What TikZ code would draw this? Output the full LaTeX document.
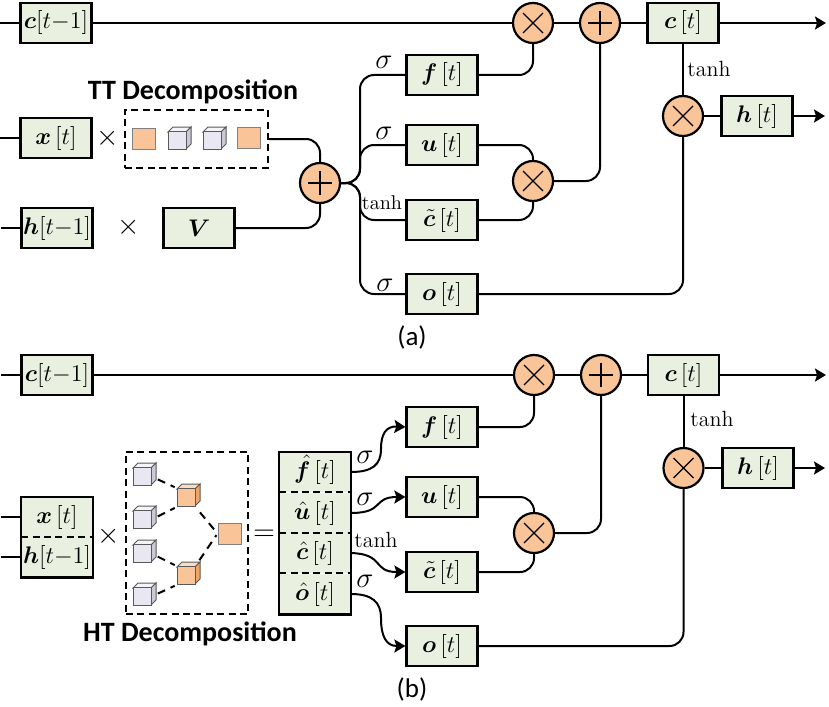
\documentclass[tikz,border=0pt]{standalone}
\usepackage{amsmath,bm}
\usepackage{fontspec}
\newfontfamily\labelfont{Carlito}
\usetikzlibrary{fit,arrows.meta}
\definecolor{boxgreen}{HTML}{E9F0DF}
\definecolor{oporange}{HTML}{F8C498}
\definecolor{orangetop}{HTML}{FBDDC3}
\definecolor{orangeside}{HTML}{F0A465}
\definecolor{cubefront}{HTML}{E9E7F1}
\definecolor{cubetop}{HTML}{F5F4F9}
\definecolor{cubeside}{HTML}{CBC8D8}
\newcommand{\cubefaces}[3]{%
  \draw[cubeedge,fill=#1] (0,0) -- (5,-5) -- (23,-5) -- (18,0) -- cycle;
  \draw[cubeedge,fill=#2] (18,0) -- (23,-5) -- (23,12) -- (18,17) -- cycle;
  \node[cubeedge,draw,fill=#3,minimum size=9pt,inner sep=0pt] (-f) at (9,8.5) {};
}
\tikzset{
  gbox/.style={draw,line width=1.1pt,fill=boxgreen,minimum width=35.5pt,minimum height=20pt,inner sep=0pt,font=\fontsize{13}{15}\selectfont},
  cell/.style={fill=boxgreen,minimum width=35.5pt,minimum height=20pt,text height=8.5pt,text depth=2.5pt,inner sep=0pt,font=\fontsize{13}{15}\selectfont},
  narrowlabel/.style={font=\fontsize{12}{14}\selectfont},
  opnode/.style={circle,draw,line width=1.1pt,fill=oporange,minimum size=20pt,inner sep=0pt},
  opadd/.style={opnode,path picture={
    \draw[line width=0.6pt] (path picture bounding box.center) ++(-6pt,0) -- ++(12pt,0) ++(-6pt,-6pt) -- ++(0,12pt);}},
  opmul/.style={opnode,path picture={
    \draw[line width=0.6pt] (path picture bounding box.center) ++(-5pt,-5pt) -- ++(10pt,10pt) ++(-10pt,0) -- ++(10pt,-10pt);}},
  wire/.style={line width=1pt,rounded corners=7pt},
  outwire/.style={line width=1pt,-{Stealth[length=5.5pt,width=6.5pt,inset=1pt]}},
  dashbox/.style={draw,line width=1pt,dash pattern=on 3.5pt off 2.2pt,inner sep=0pt},
  dashsep/.style={line width=1pt,dash pattern=on 3.5pt off 2.2pt},
  dashlink/.style={line width=1pt,dash pattern=on 4pt off 3pt,shorten <=3.5pt,shorten >=1pt},
  tensorsq/.style={draw=black!50,line width=0.5pt,fill=oporange,minimum width=11.5pt,minimum height=10.5pt,inner sep=0pt},
  cubeedge/.style={draw=black!65,line width=0.5pt},
  decolabel/.style={font=\labelfont\bfseries\fontsize{14}{16}\selectfont},
  caption/.style={font=\labelfont\fontsize{13.5}{16}\selectfont},
  siglabel/.style={font=\fontsize{14}{16}\selectfont},
  tanhlabel/.style={font=\fontsize{11}{13}\selectfont},
  graycube/.pic={\cubefaces{cubetop}{cubeside}{cubefront}},
  orangecube/.pic={\cubefaces{orangetop}{orangeside}{oporange}},
}
\begin{document}
\begin{tikzpicture}[x=0.5pt,y=-0.5pt]
\useasboundingbox (0,0) rectangle (829,706);

\node[gbox,narrowlabel] (cprev) at (56,23) {$\bm{c}[t{-}1]$};
\node[gbox] (x) at (56,138) {$\bm{x}\,[t]$};
\node[gbox,narrowlabel] (hprev) at (57,228) {$\bm{h}[t{-}1]$};
\node[gbox] (V) at (199,228) {$\bm{V}$};
\node[gbox] (f) at (442,75) {$\bm{f}\,[t]$};
\node[gbox] (u) at (442,145) {$\bm{u}\,[t]$};
\node[gbox] (ct) at (442,220) {$\tilde{\bm{c}}\,[t]$};
\node[gbox] (o) at (442,294) {$\bm{o}\,[t]$};
\node[gbox] (c) at (683,23) {$\bm{c}\,[t]$};
\node[gbox] (h) at (757,116) {$\bm{h}\,[t]$};
\node[opadd] (add) at (320,183) {};
\node[opmul] (mulf) at (533,23) {};
\node[opadd] (addc) at (600,23) {};
\node[opmul] (mulu) at (533,181) {};
\node[opmul] (mulh) at (683,116) {};
\node[dashbox,minimum width=71.5pt,minimum height=29pt] (ttbox) at (196.5,139) {};
\node[tensorsq] (tt1) at (144,139) {};
\pic (tt2) at (168,132) {graycube};
\pic (tt3) at (203,132) {graycube};
\node[tensorsq] (tt4) at (249,138) {};
\node[decolabel] (ttlabel) at (193,92) {TT Decomposition};
\node (timesx) at (108,138) {\Large$\times$};
\node (timesh) at (129,227) {\Large$\times$};
\node[siglabel] (sigf) at (384,62) {$\sigma$};
\node[siglabel] (sigu) at (384,133) {$\sigma$};
\node (tanhc) at (382,203) {$\tanh$};
\node[siglabel] (sigo) at (385,285) {$\sigma$};
\node[tanhlabel] (tanhh) at (709,69) {$\tanh$};
\node[caption] (capa) at (412,337) {(a)};

\coordinate (cin) at (0,23);
\coordinate (xin) at (0,138);
\coordinate (hin) at (1,228);
\coordinate (split) at (360,183);
\coordinate (cout) at (826,23);
\coordinate (hout) at (825,116);
\draw[wire] (cin) -- (cprev.west);
\draw[wire] (xin) -- (x.west);
\draw[wire] (hin) -- (hprev.west);
\draw[wire] (cprev.east) -- (mulf.west);
\draw[wire] (mulf.east) -- (addc.west);
\draw[wire] (addc.east) -- (c.west);
\draw[outwire] (c.east) -- (cout);
\draw[wire] (c.south) -- (mulh.north);
\draw[wire] (mulh.east) -- (h.west);
\draw[outwire] (h.east) -- (hout);
\draw[wire] (ttbox.east) -| (add.north);
\draw[wire] (V.east) -| (add.south);
\draw[wire] (add.east) -- (split) |- (f.west);
\draw[wire] (add.east) -- (split) |- (u.west);
\draw[wire] (add.east) -- (split) |- (ct.west);
\draw[wire] (add.east) -- (split) |- (o.west);
\draw[wire] (f.east) -| (mulf.south);
\draw[wire] (u.east) -| (mulu.north);
\draw[wire] (ct.east) -| (mulu.south);
\draw[wire] (mulu.east) -| (addc.south);
\draw[wire] (o.east) -| (mulh.south);

\node[gbox,narrowlabel] (cprevb) at (57,375) {$\bm{c}[t{-}1]$};
\node[cell] (xb) at (57,517) {$\bm{x}\,[t]$};
\node[cell,narrowlabel] (hb) at (57,557) {$\bm{h}[t{-}1]$};
\node[fit=(xb)(hb),draw,line width=1.1pt,inner sep=0pt] (xhbox) {};
\draw[dashsep] (xb.south west) -- (xb.south east);
\node[cell] (fhat) at (315,472) {$\hat{\bm{f}}\,[t]$};
\node[cell] (uhat) at (315,513) {$\hat{\bm{u}}\,[t]$};
\node[cell] (chat) at (315,553) {$\hat{\bm{c}}\,[t]$};
\node[cell] (ohat) at (315,594) {$\hat{\bm{o}}\,[t]$};
\node[fit=(fhat)(ohat),draw,line width=1.1pt,inner sep=0pt] (stack) {};
\draw[dashsep] (fhat.south west) -- (fhat.south east);
\draw[dashsep] (uhat.south west) -- (uhat.south east);
\draw[dashsep] (chat.south west) -- (chat.south east);
\node[gbox] (fb) at (442,427) {$\bm{f}\,[t]$};
\node[gbox] (ub) at (442,497) {$\bm{u}\,[t]$};
\node[gbox] (ctb) at (442,572) {$\tilde{\bm{c}}\,[t]$};
\node[gbox] (ob) at (442,646) {$\bm{o}\,[t]$};
\node[gbox] (cb) at (683.5,375) {$\bm{c}\,[t]$};
\node[gbox] (hbout) at (758,468) {$\bm{h}\,[t]$};
\node[opmul] (mulfb) at (534,375) {};
\node[opadd] (addcb) at (601,375) {};
\node[opmul] (mulub) at (534,533) {};
\node[opmul] (mulhb) at (683.5,468) {};
\node[dashbox,minimum width=61pt,minimum height=81pt] (htbox) at (187,533) {};
\pic (ht1) at (133,468) {graycube};
\pic (ht2) at (133,511) {graycube};
\pic (ht3) at (133,545) {graycube};
\pic (ht4) at (133,588) {graycube};
\pic (ho1) at (177,489) {orangecube};
\pic (ho2) at (177,567) {orangecube};
\node[tensorsq] (hroot) at (229.5,533.5) {};
\draw[dashlink] (ht1-f.east) -- (ho1-f.north west);
\draw[dashlink] (ht2-f.east) -- (ho1-f.south west);
\draw[dashlink] (ht3-f.east) -- (ho2-f.north west);
\draw[dashlink] (ht4-f.east) -- (ho2-f.south west);
\draw[dashlink] (ho1-f.south east) -- (hroot.west);
\draw[dashlink] (ho2-f.north east) -- (hroot.west);
\node[decolabel] (htlabel) at (190,634) {HT Decomposition};
\node (timesb) at (109,536) {\Large$\times$};
\node (eqb) at (264,535) {\Large$=$};
\node[siglabel] (sigfb) at (365,457) {$\sigma$};
\node[siglabel] (sigub) at (365,499) {$\sigma$};
\node[tanhlabel] (tanhb) at (376,540) {$\tanh$};
\node[siglabel] (sigob) at (365,581) {$\sigma$};
\node[tanhlabel] (tanhhb) at (712,419) {$\tanh$};
\node[caption] (capb) at (412,689) {(b)};

\coordinate (cinb) at (1,375);
\coordinate (xinb) at (1,517);
\coordinate (hinb) at (1,557);
\coordinate (coutb) at (826,375);
\coordinate (houtb) at (825,468);
\draw[wire] (cinb) -- (cprevb.west);
\draw[wire] (xinb) -- (xb.west);
\draw[wire] (hinb) -- (hb.west);
\draw[wire] (cprevb.east) -- (mulfb.west);
\draw[wire] (mulfb.east) -- (addcb.west);
\draw[wire] (addcb.east) -- (cb.west);
\draw[outwire] (cb.east) -- (coutb);
\draw[wire] (cb.south) -- (mulhb.north);
\draw[wire] (mulhb.east) -- (hbout.west);
\draw[outwire] (hbout.east) -- (houtb);
\draw[outwire] (fhat.east) .. controls (372,472) and (381,465) .. (381,449) .. controls (381,434) and (386,426) .. (fb.west);
\draw[outwire] (uhat.east) .. controls (385,513) and (372,497) .. (ub.west);
\draw[outwire] (chat.east) .. controls (385,554) and (372,572) .. (ctb.west);
\draw[outwire] (ohat.east) .. controls (372,594) and (381,602) .. (381,618) .. controls (381,636) and (386,646) .. (ob.west);
\draw[wire] (fb.east) -| (mulfb.south);
\draw[wire] (ub.east) -| (mulub.north);
\draw[wire] (ctb.east) -| (mulub.south);
\draw[wire] (mulub.east) -| (addcb.south);
\draw[wire] (ob.east) -| (mulhb.south);
\end{tikzpicture}
\end{document}
